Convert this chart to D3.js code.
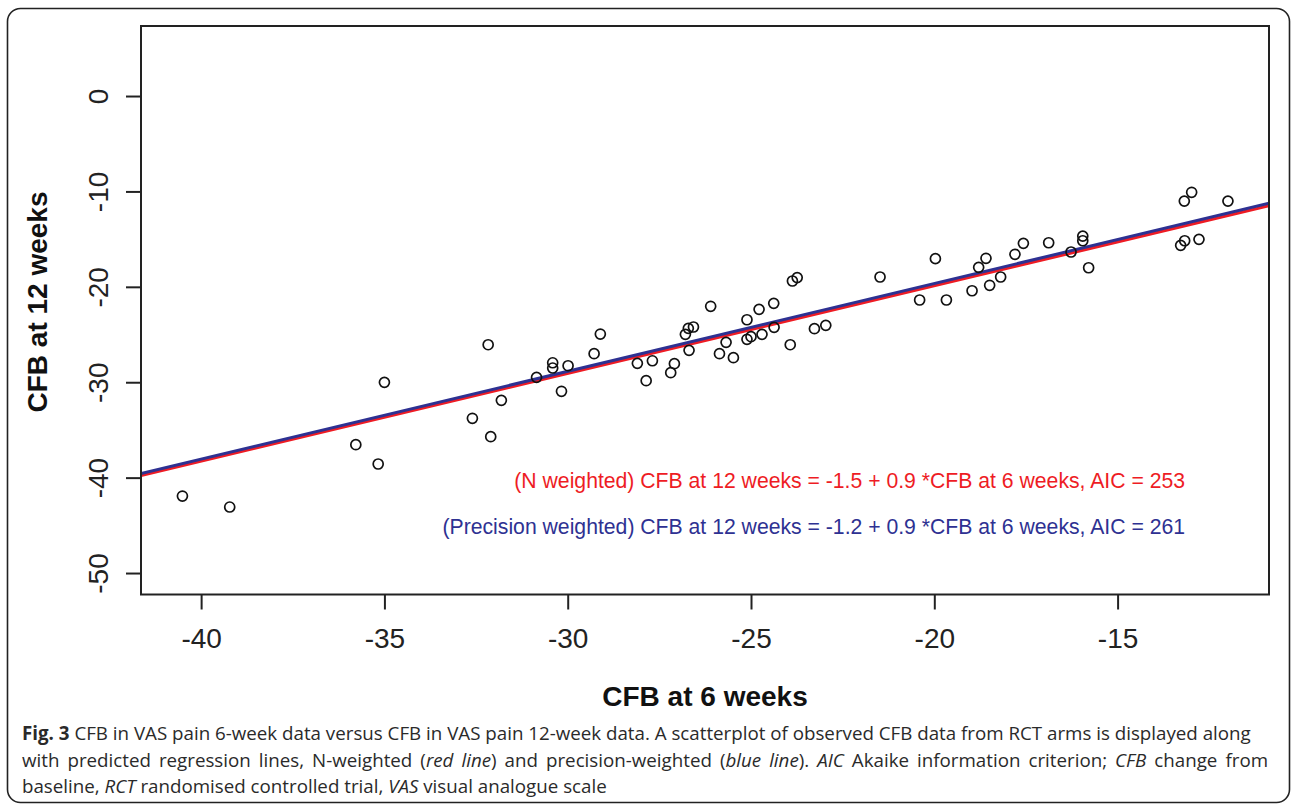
<!DOCTYPE html>
<html>
<head>
<meta charset="utf-8">
<script src="https://cdn.jsdelivr.net/npm/d3@7"></script>
<style>
  body { margin: 0; background: #fff; }
  svg { display: block; }
</style>
</head>
<body>
<div id="chart"></div>
<script>
// CFB values, one entry per RCT arm
const cfb6 = [-40.51, -39.22, -35.78, -35.17, -35.00, -32.60, -32.10, -32.17, -31.81, -30.85,
  -30.41, -30.41, -30.17, -29.99, -29.28, -29.11, -28.10, -27.86, -27.69, -27.19,
  -27.09, -26.69, -26.79, -26.71, -26.57, -26.10, -25.86, -25.68, -25.48, -25.11,
  -25.11, -25.00, -24.78, -24.70, -24.38, -24.37, -23.93, -23.87, -23.74, -23.27,
  -22.96, -21.48, -20.40, -19.97, -19.67, -18.97, -18.79, -18.59, -18.49, -18.19,
  -17.80, -17.57, -16.88, -16.27, -15.95, -15.95, -15.79, -13.28, -13.17, -12.78,
  -13.18, -12.98, -11.99];
const cfb12 = [-41.93, -43.08, -36.55, -38.57, -30.01, -33.78, -35.71, -26.07, -31.90, -29.49,
  -27.96, -28.51, -30.95, -28.27, -27.01, -24.95, -28.02, -29.84, -27.75, -29.00,
  -28.06, -26.66, -24.98, -24.35, -24.21, -22.04, -27.01, -25.82, -27.43, -23.45,
  -25.50, -25.23, -22.36, -24.98, -21.73, -24.25, -26.07, -19.39, -19.03, -24.39,
  -24.04, -18.97, -21.38, -17.05, -21.38, -20.41, -17.96, -17.01, -19.84, -18.97,
  -16.59, -15.44, -15.38, -16.35, -14.68, -15.17, -18.00, -15.65, -15.17, -15.02,
  -11.01, -10.09, -11.01];

const xTicks = [-40, -35, -30, -25, -20, -15];
const yTicks = [0, -10, -20, -30, -40, -50];

// regression lines (as drawn) and their printed equations
const fitNames = ["N weighted", "Precision weighted"];
const fitIntercepts = [-1.51, -1.23];
const fitSlopes = [0.919, 0.921];
const fitColors = ["#ee1c24", "#2e3192"];
const fitLabels = [
  "(N weighted) CFB at 12 weeks = -1.5 + 0.9 *CFB at 6 weeks, AIC = 253",
  "(Precision weighted) CFB at 12 weeks = -1.2 + 0.9 *CFB at 6 weeks, AIC = 261"
];

const captionLines = [
  [["Fig. 3", "b"], [" CFB in VAS pain 6-week data versus CFB in VAS pain 12-week data. A scatterplot of observed CFB data from RCT arms is displayed along", "n"]],
  [["with predicted regression lines, N-weighted (", "n"], ["red line", "i"], [") and precision-weighted (", "n"], ["blue line", "i"], ["). ", "n"], ["AIC", "i"], [" Akaike information criterion; ", "n"], ["CFB", "i"], [" change from", "n"]],
  [["baseline, ", "n"], ["RCT", "i"], [" randomised controlled trial, ", "n"], ["VAS", "i"], [" visual analogue scale", "n"]]
];

let width = 1292,
    height = 805;

const svg = d3.select("#chart")
    .append("svg")
    .attr("width", width)
    .attr("height", height);

// outer figure frame
svg.append("rect")
    .attr("x", 7.5).attr("y", 8.5)
    .attr("width", 1282).attr("height", 794)
    .attr("rx", 13).attr("ry", 13)
    .attr("fill", "none")
    .attr("stroke", "#222")
    .attr("stroke-width", 1.6);

const plotLeft = 141, plotRight = 1269, plotTop = 26, plotBottom = 594.5;

const x = d3.scaleLinear().domain([-41.64, -10.87]).range([plotLeft, plotRight]);
const y = d3.scaleLinear().domain([7.34, -52.25]).range([plotTop, plotBottom]);

svg.append("clipPath").attr("id", "plot-clip")
  .append("rect")
    .attr("x", plotLeft).attr("y", plotTop)
    .attr("width", plotRight - plotLeft).attr("height", plotBottom - plotTop);

const tickFont = "'Liberation Sans', Arial, Helvetica, sans-serif";

// x axis
const gx = svg.append("g")
    .attr("transform", "translate(0," + plotBottom + ")")
    .call(d3.axisBottom(x).tickValues(xTicks).tickSize(15).tickFormat(function (d) { return String(d); }));
gx.select(".domain").remove();
gx.selectAll(".tick line").attr("stroke", "#222").attr("stroke-width", 2);
gx.selectAll(".tick text")
    .attr("y", 53.5)
    .attr("dy", 0)
    .attr("fill", "#222")
    .style("font-family", tickFont)
    .style("font-size", "28px");

// y axis, labels turned like R's default
const gy = svg.append("g")
    .attr("transform", "translate(" + plotLeft + ",0)")
    .call(d3.axisLeft(y).tickValues(yTicks).tickSize(15).tickFormat(function (d) { return String(d); }));
gy.select(".domain").remove();
gy.selectAll(".tick line").attr("stroke", "#222").attr("stroke-width", 2);
gy.selectAll(".tick text")
    .attr("x", 0).attr("y", 0).attr("dy", 0)
    .attr("text-anchor", "middle")
    .attr("transform", "translate(-33,0) rotate(-90)")
    .attr("fill", "#222")
    .style("font-family", tickFont)
    .style("font-size", "28px");

// regression lines
const line = d3.line()
    .x(function (d) { return x(d[0]); })
    .y(function (d) { return y(d[1]); });

const xd = x.domain();
svg.append("g")
    .attr("clip-path", "url(#plot-clip)")
  .selectAll("path")
    .data(fitNames)
    .enter().append("path")
    .attr("d", function (d, i) {
      return line(xd.map(function (v) { return [v, fitIntercepts[i] + fitSlopes[i] * v]; }));
    })
    .attr("fill", "none")
    .attr("stroke", function (d, i) { return fitColors[i]; })
    .attr("stroke-width", 3);

// observed arms
svg.append("g")
  .selectAll("circle")
    .data(cfb6)
    .enter().append("circle")
    .attr("cx", function (d) { return x(d); })
    .attr("cy", function (d, i) { return y(cfb12[i]); })
    .attr("r", 5)
    .attr("fill", "none")
    .attr("stroke", "#111")
    .attr("stroke-width", 1.7);

// plot box
svg.append("rect")
    .attr("x", plotLeft).attr("y", plotTop)
    .attr("width", plotRight - plotLeft).attr("height", plotBottom - plotTop)
    .attr("fill", "none")
    .attr("stroke", "#222")
    .attr("stroke-width", 2);

// equations
svg.append("g")
  .selectAll("text")
    .data(fitLabels)
    .enter().append("text")
    .attr("x", 1185)
    .attr("y", function (d, i) { return 488 + i * 46; })
    .attr("text-anchor", "end")
    .attr("fill", function (d, i) { return fitColors[i]; })
    .style("font-family", tickFont)
    .style("font-size", "21.2px")
    .text(function (d) { return d; });

// axis titles
svg.append("text")
    .attr("x", 705).attr("y", 706)
    .attr("text-anchor", "middle")
    .attr("fill", "#111")
    .style("font-family", tickFont)
    .style("font-size", "28px")
    .style("font-weight", "bold")
    .text("CFB at 6 weeks");

svg.append("text")
    .attr("transform", "translate(47,302) rotate(-90)")
    .attr("text-anchor", "middle")
    .attr("fill", "#111")
    .style("font-family", tickFont)
    .style("font-size", "28px")
    .style("font-weight", "bold")
    .text("CFB at 12 weeks");

// caption, laid out word by word so the second line can be justified
const capFont = "'Open Sans', 'Noto Sans', sans-serif";
const capLeft = 22;
const capG = svg.append("g").attr("fill", "#2a2a2a").style("font-family", capFont);

function styleWord(sel, s) {
  sel.style("font-weight", s === "b" ? "bold" : "normal")
     .style("font-style", s === "i" ? "italic" : "normal");
}

function measure(str, s, size) {
  const t = capG.append("text").style("font-size", size + "px").text(str);
  styleWord(t, s);
  const w = t.node().getComputedTextLength();
  t.remove();
  return w;
}

function wordsOf(segs) {
  // join segments into words; a word may mix styles, e.g. "(red line)."
  const words = [];
  let cur = [];
  segs.forEach(function (seg) {
    const parts = seg[0].split(" ");
    parts.forEach(function (p, k) {
      if (k > 0) { if (cur.length) words.push(cur); cur = []; }
      if (p.length) cur.push([p, seg[1]]);
    });
  });
  if (cur.length) words.push(cur);
  return words;
}

function layoutLine(segs, size, baseline, justifyTo) {
  const words = wordsOf(segs);
  const widths = words.map(function (w) {
    return d3.sum(w, function (p) { return measure(p[0], p[1], size); });
  });
  const space = measure("x x", "n", size) - measure("xx", "n", size);
  let gap = space;
  if (justifyTo) gap = (justifyTo - capLeft - d3.sum(widths)) / (words.length - 1);
  let cx = capLeft;
  words.forEach(function (w, i) {
    let px = cx;
    w.forEach(function (p) {
      const t = capG.append("text")
          .attr("x", px).attr("y", baseline)
          .style("font-size", size + "px")
          .text(p[0]);
      styleWord(t, p[1]);
      px += t.node().getComputedTextLength();
    });
    cx += widths[i] + gap;
  });
  return cx - gap;
}

// size the caption so the first line fills its measured width
const probe = 20;
const firstWords = wordsOf(captionLines[0]);
const firstW = d3.sum(firstWords, function (w) {
  return d3.sum(w, function (p) { return measure(p[0], p[1], probe); });
}) + (firstWords.length - 1) * (measure("x x", "n", probe) - measure("xx", "n", probe));
const capSize = probe * (1252 - capLeft) / firstW;

layoutLine(captionLines[0], capSize, 740, null);
layoutLine(captionLines[1], capSize, 767, 1268);
layoutLine(captionLines[2], capSize, 793, null);
</script>
</body>
</html>
